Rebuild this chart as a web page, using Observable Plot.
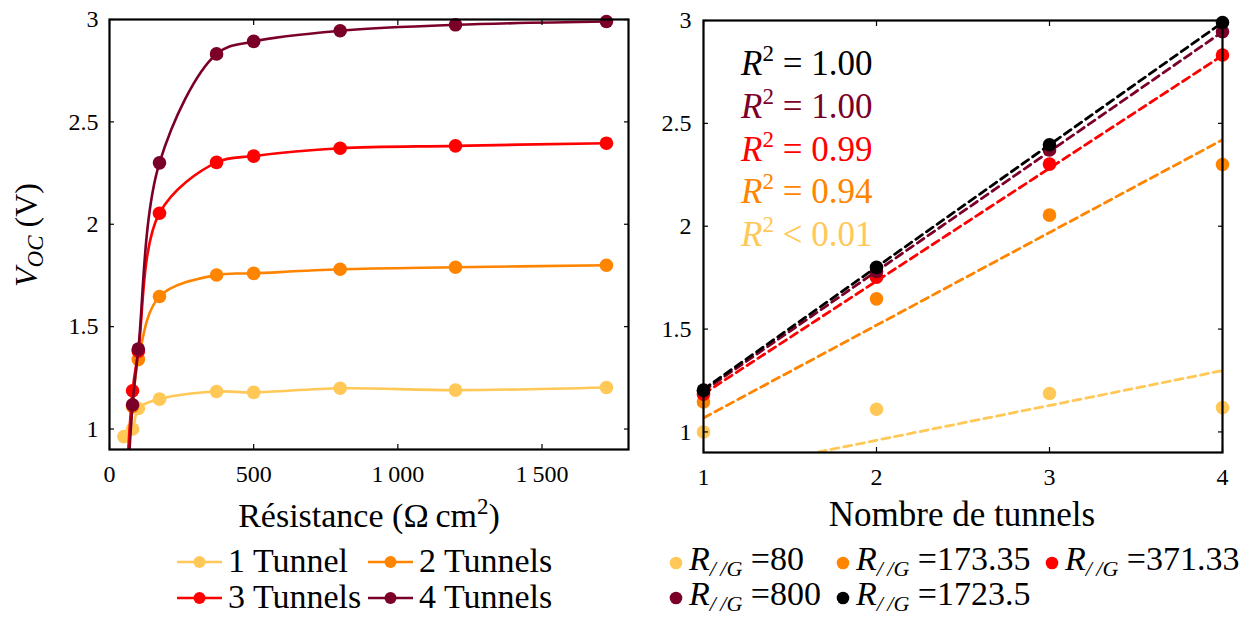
<!DOCTYPE html>
<html>
<head>
<meta charset="utf-8">
<script src="https://cdn.jsdelivr.net/npm/d3@7"></script>
<script src="https://cdn.jsdelivr.net/npm/@observablehq/plot@0.6"></script>
<style>
  html, body { margin: 0; padding: 0; background: #fff; }
  body { width: 1254px; height: 619px; overflow: hidden; position: relative; font-family: "Liberation Serif", serif; }
  #left { position: absolute; left: 0; top: 0; }
  #right { position: absolute; left: 640px; top: 0; }
  #overlay { position: absolute; left: 0; top: 0; pointer-events: none; }
  svg text { font-family: "Liberation Serif", serif !important; }
</style>
</head>
<body>
<div id="left"></div>
<div id="right"></div>
<script>
// ---------- data ----------
const resistances = [50, 80, 100, 173.35, 371.33, 500, 800, 1200, 1723.5];
const voc1T = [0.963, 1.00, 1.10, 1.146, 1.183, 1.179, 1.199, 1.190, 1.203];
const voc2T = [0.60, 1.11, 1.34, 1.647, 1.752, 1.760, 1.780, 1.790, 1.800];
const voc3T = [0.50, 1.187, 1.38, 2.054, 2.302, 2.333, 2.371, 2.383, 2.396];
const voc4T = [0.40, 1.118, 1.39, 2.300, 2.832, 2.893, 2.945, 2.974, 2.990];
const seriesNames = ["1 Tunnel", "2 Tunnels", "3 Tunnels", "4 Tunnels"];
const seriesColors = ["#ffc857", "#ff8500", "#ff0000", "#7b0028"];

const tunnels = [1, 2, 3, 4];
const legendR = [80, 173.35, 371.33, 800, 1723.5];
const legendRLabels = ["80", "173.35", "371.33", "800", "1723.5"];
const rColors = ["#ffc857", "#ff8500", "#ff0000", "#7b0028", "#000000"];
const fitAt1 = [0.79, 1.068, 1.185, 1.199, 1.207];
const fitAt4 = [1.298, 2.420, 2.830, 2.945, 2.990];

const r2Texts = ["= 1.00", "= 1.00", "= 0.99", "= 0.94", "< 0.01"];
const r2Colors = ["#000000", "#7b0028", "#ff0000", "#ff8500", "#ffc857"];

const xTicksLeft = [0, 500, 1000, 1500];
const xTicksRight = [1, 2, 3, 4];
const yTicks = [1, 1.5, 2, 2.5, 3];
const yDomain = [0.9, 3.0];

// ---------- tables ----------
const vocByTunnel = [voc1T, voc2T, voc3T, voc4T];
const leftRows = seriesNames.flatMap((name, s) =>
  resistances.map((r, i) => ({series: name, r, v: vocByTunnel[s][i]})));
const rightRows = legendR.flatMap((R, k) =>
  tunnels.map((n, t) => ({key: legendRLabels[k], n, v: vocByTunnel[t][resistances.indexOf(R)]})));
const fitRows = legendR.flatMap((R, k) => [
  {key: legendRLabels[k], n: d3.min(tunnels), v: fitAt1[k]},
  {key: legendRLabels[k], n: d3.max(tunnels), v: fitAt4[k]}
]);

const thin = d3.formatLocale({decimal: ".", thousands: "\u2009", grouping: [3], currency: ["", ""]}).format(",");
const yFmt = d => String(d);
const FONT = "Liberation Serif";

function frameAxes(xTicks, xFmt, padY) {
  const tick = {tickSize: -5, fill: "none", label: null, strokeWidth: 1.2, stroke: "#000"};
  return [
    Plot.axisX({...tick, anchor: "bottom", ticks: xTicks}),
    Plot.axisX({...tick, anchor: "top", ticks: xTicks}),
    Plot.axisY({...tick, anchor: "left", ticks: yTicks}),
    Plot.axisY({...tick, anchor: "right", ticks: yTicks}),
    Plot.axisX({anchor: "bottom", ticks: xTicks, tickSize: 0, tickPadding: 15, tickFormat: xFmt,
      fontSize: 24, fontFamily: FONT, fill: "#000", label: null}),
    Plot.axisY({anchor: "left", ticks: yTicks, tickSize: 0, tickPadding: padY, tickFormat: yFmt,
      fontSize: 24, fontFamily: FONT, fill: "#000", label: null}),
    Plot.frame({stroke: "#000", strokeWidth: 2.2})
  ];
}

// ---------- left plot ----------
const leftMarks = seriesNames.flatMap((name, s) => [
  Plot.line(leftRows, {filter: d => d.series === name, x: "r", y: "v", stroke: seriesColors[s],
    strokeWidth: 2.6, curve: "catmull-rom", clip: true}),
  Plot.dot(leftRows, {filter: d => d.series === name && d.v >= yDomain[0], x: "r", y: "v",
    r: 6.8, fill: seriesColors[s], stroke: "none"})
]);

const left = Plot.plot({
  width: 640, height: 480,
  marginLeft: 109, marginRight: 12, marginTop: 19, marginBottom: 31,
  style: {fontFamily: FONT, fontSize: "24px", background: "transparent", color: "#000", overflow: "visible"},
  x: {domain: [0, 1800], label: null},
  y: {domain: yDomain, label: null},
  marks: [...leftMarks, ...frameAxes(xTicksLeft, d => thin(d), 11)]
});
document.getElementById("left").append(left);

// ---------- right plot ----------
const rightMarks = legendRLabels.flatMap((key, k) => [
  Plot.line(fitRows, {filter: d => d.key === key, x: "n", y: "v", stroke: rColors[k],
    strokeWidth: 2.8, strokeDasharray: "8,5", clip: true}),
  Plot.dot(rightRows, {filter: d => d.key === key && d.v >= yDomain[0], x: "n", y: "v",
    r: 6.8, fill: rColors[k], stroke: "none"})
]);

const right = Plot.plot({
  width: 614, height: 480,
  marginLeft: 63, marginRight: 32, marginTop: 20, marginBottom: 28,
  style: {fontFamily: FONT, fontSize: "24px", background: "transparent", color: "#000", overflow: "visible"},
  x: {domain: [1, 4], label: null},
  y: {domain: yDomain, label: null},
  marks: [...rightMarks, ...frameAxes(xTicksRight, d => String(d), 12)]
});
document.getElementById("right").append(right);

// ---------- labels, annotations, legends ----------
const ov = d3.select("body").append("svg").attr("id", "overlay")
  .attr("width", 1254).attr("height", 619).attr("font-family", FONT);

// x-axis labels
const xl1 = ov.append("text").attr("x", 369).attr("y", 527).attr("text-anchor", "middle").attr("font-size", 34);
xl1.append("tspan").text("Résistance (Ω\u2009cm");
xl1.append("tspan").attr("font-size", 23).attr("dy", -13).text("2");
xl1.append("tspan").attr("dy", 13).text(")");
ov.append("text").attr("x", 962).attr("y", 526).attr("text-anchor", "middle").attr("font-size", 35).text("Nombre de tunnels");

// y-axis label
const yl = ov.append("text").attr("transform", "translate(37,235) rotate(-90)").attr("text-anchor", "middle").attr("font-size", 32);
yl.append("tspan").attr("font-style", "italic").text("V");
yl.append("tspan").attr("font-style", "italic").attr("font-size", 23).attr("dy", 6).text("OC");
yl.append("tspan").attr("dy", -6).text(" (V)");

// R² annotations
r2Texts.forEach((t, i) => {
  const g = ov.append("text").attr("x", 741).attr("y", 75 + i * 42.8).attr("font-size", 35).attr("fill", r2Colors[i]);
  g.append("tspan").attr("font-style", "italic").text("R");
  g.append("tspan").attr("font-size", 23).attr("dy", -14).text("2");
  g.append("tspan").attr("dy", 14).text(" " + t);
});

// left legend
seriesNames.forEach((name, i) => {
  const col = i % 2, row = Math.floor(i / 2);
  const x0 = [177, 368][col], cy = [562, 598][row];
  ov.append("line").attr("x1", x0).attr("x2", x0 + 45).attr("y1", cy).attr("y2", cy)
    .attr("stroke", seriesColors[i]).attr("stroke-width", 2.6);
  ov.append("circle").attr("cx", x0 + 22.5).attr("cy", cy).attr("r", 6).attr("fill", seriesColors[i]);
  ov.append("text").attr("x", x0 + 51).attr("y", cy + 10).attr("font-size", 34).text(name);
});

// right legend
legendRLabels.forEach((lab, i) => {
  const col = i % 3, row = Math.floor(i / 3);
  const x0 = [676, 843, 1052][col], cy = [563, 598][row];
  ov.append("circle").attr("cx", x0).attr("cy", cy).attr("r", 6.3).attr("fill", rColors[i]);
  const t = ov.append("text").attr("x", x0 + 13).attr("y", cy + 7).attr("font-size", 34);
  t.append("tspan").attr("font-style", "italic").text("R");
  t.append("tspan").attr("font-style", "italic").attr("font-size", 22).attr("dy", 6).text("/\u2009/G");
  t.append("tspan").attr("dy", -6).text(" =" + lab);
});
</script>
</body>
</html>
